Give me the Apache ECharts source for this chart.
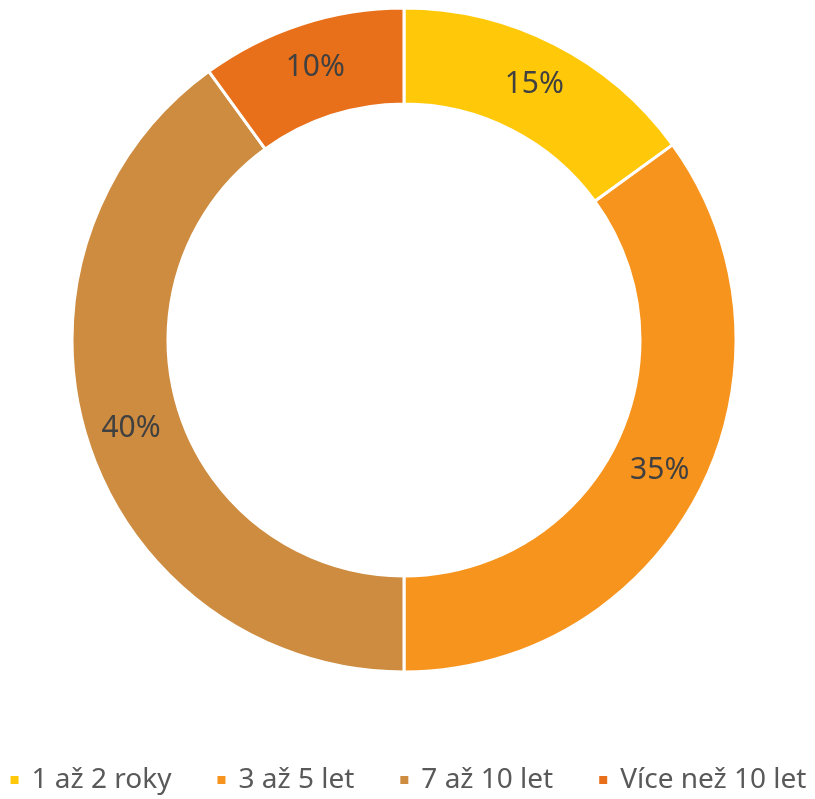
<!DOCTYPE html>
<html>
<head>
<meta charset="utf-8">
<script src="https://cdn.jsdelivr.net/npm/echarts@6/dist/echarts.min.js"></script>
<style>
  html, body { margin: 0; padding: 0; background: #fff; }
  #chart { width: 815px; height: 799px; }
</style>
</head>
<body>
<div id="chart"></div>
<script>
// data
var categories = ['1 až 2 roky', '3 až 5 let', '7 až 10 let', 'Více než 10 let'];
var values = [15, 35, 40, 10];
var colors = ['#FFC90A', '#F7941D', '#CD8C40', '#E8701A'];

var myChart = echarts.init(document.getElementById('chart'));

var pieData = categories.map(function (name, i) {
  return { name: name, value: values[i], itemStyle: { color: colors[i] } };
});

myChart.setOption({
  animation: false,
  legend: {
    bottom: 0,
    left: 'center',
    icon: 'rect',
    itemWidth: 10,
    itemHeight: 10,
    itemGap: 44,
    textStyle: {
      fontFamily: 'Noto Sans, sans-serif',
      fontSize: 28,
      color: '#595959',
      padding: [0, 0, 0, 7]
    },
    data: categories
  },
  series: [
    {
      name: 'roky',
      type: 'pie',
      center: [404, 340],
      radius: [236, 332],
      startAngle: 90,
      clockwise: true,
      itemStyle: { borderColor: '#fff', borderWidth: 3 },
      label: {
        show: true,
        position: 'inside',
        formatter: '{c}%',
        fontFamily: 'Noto Sans, sans-serif',
        fontSize: 30,
        color: '#404040'
      },
      labelLine: { show: false },
      data: pieData
    }
  ]
});
</script>
</body>
</html>
